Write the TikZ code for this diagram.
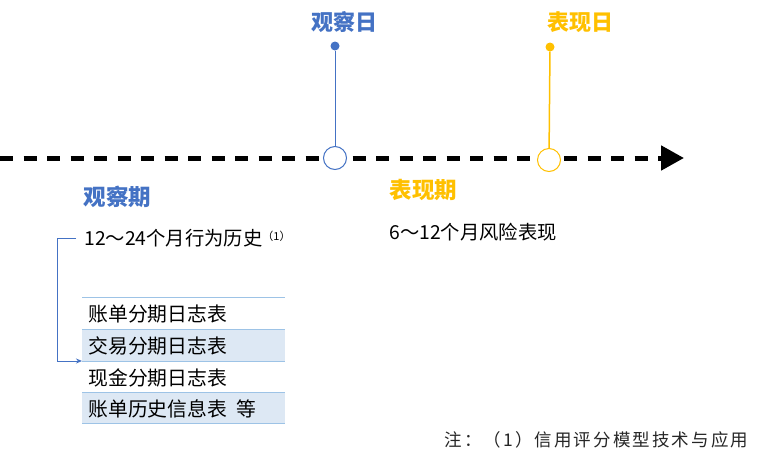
\documentclass[tikz,border=0pt]{standalone}
\usepackage{fontspec}
\setmainfont{Noto Sans CJK SC}
\usetikzlibrary{arrows.meta}
\definecolor{cblue}{HTML}{4472C4}
\definecolor{corange}{HTML}{FFC000}
\definecolor{rowfill}{HTML}{DDE8F4}
\definecolor{rowline}{HTML}{9DC3E6}
\begin{document}
\begin{tikzpicture}[x=1pt,y=-1pt,
  daylabel/.style={font=\fontsize{22}{24}\selectfont\bfseries},
  periodlabel/.style={font=\fontsize{22.5}{24}\selectfont\bfseries, anchor=west},
  bodytext/.style={font=\fontsize{19.3}{22}\selectfont, anchor=west},
  rowtext/.style={font=\fontsize{19.8}{22}\selectfont, anchor=west},
  ring/.style={circle, draw, fill=white, line width=1pt, minimum size=23pt, inner sep=0pt},
  dot/.style={circle, fill, minimum size=9pt, inner sep=0pt}]
\useasboundingbox (0,0) rectangle (777,464);
% timeline
\coordinate (tl0) at (0,158);
\coordinate (tl1) at (684,158);
\draw[line width=5pt, dash pattern=on 13pt off 10.5pt, -{Triangle[length=23pt,width=24pt]}] (tl0) -- (tl1);
% observation day
\node[ring, draw=cblue] (obsring) at (335,158) {};
\node[dot, fill=cblue] (obsdot) at (335,46) {};
\draw[cblue, line width=1pt] (obsdot) -- (obsring);
\node[daylabel, text=cblue] (obsday) at (344,22) {观察日};
% performance day
\node[ring, draw=corange] (perfring) at (549,160) {};
\node[dot, fill=corange] (perfdot) at (550,47) {};
\draw[corange, line width=1.5pt] (perfdot) -- (perfring);
\node[daylabel, text=corange] (perfday) at (580,22) {表现日};
% periods
\node[periodlabel, text=cblue] (obsper) at (80,197) {观察期};
\node[periodlabel, text=corange] (perfper) at (386,190) {表现期};
\node[bodytext] (obsdesc) at (81,238) {12～24个月行为历史\raisebox{0.45ex}{\fontsize{11}{12}\selectfont（1）}};
\node[bodytext] (perfdesc) at (386,232) {6～12个月风险表现};
% table
\fill[rowfill] (82,329) rectangle (285,361);
\fill[rowfill] (82,392) rectangle (285,423);
\foreach \yy in {297,329,361,392,423} \draw[rowline, line width=1pt] (82,\yy) -- (285,\yy);
\node[rowtext] (r1) at (85,314) {账单分期日志表};
\node[rowtext] (r2) at (85,346) {交易分期日志表};
\node[rowtext] (r3) at (85,378) {现金分期日志表};
\node[rowtext] (r4) at (85,409) {账单历史信息表\hspace{0.45em}等};
% bracket connector
\coordinate (br0) at (76,238);
\coordinate (br1) at (82,361);
\draw[cblue, line width=1pt, -{Stealth[length=6pt,width=5pt]}] (br0) -- (57,238) |- (br1);
% note
\node[font=\fontsize{17.5}{20}\selectfont\addfontfeature{LetterSpace=12}, anchor=west, text=black!85] (note) at (441,440) {注：（1）信用评分模型技术与应用};
\end{tikzpicture}
\end{document}
